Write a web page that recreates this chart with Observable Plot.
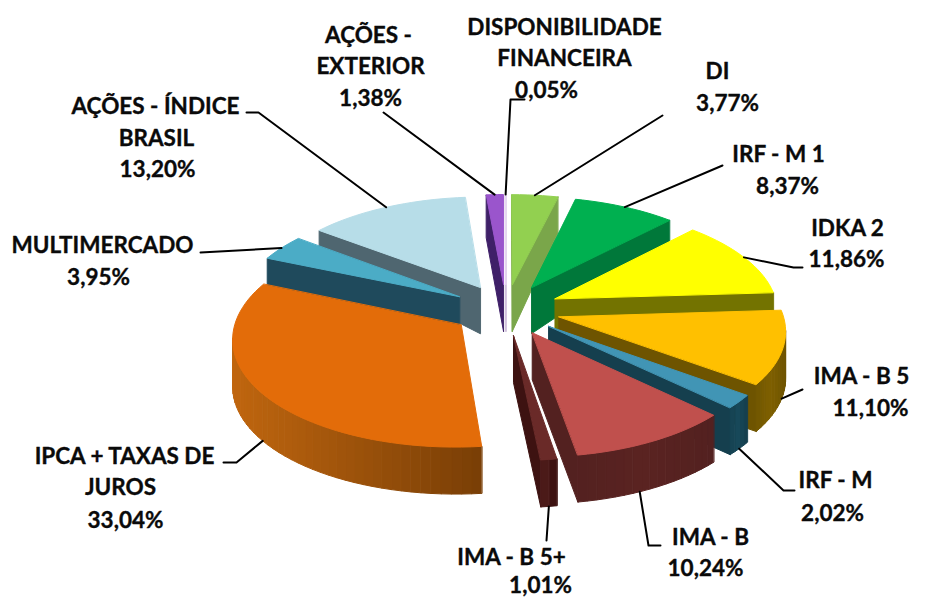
<!DOCTYPE html>
<html><head><meta charset="utf-8">
<style>html,body{margin:0;padding:0;background:#fff}svg{display:block}</style>
<script src="https://cdn.jsdelivr.net/npm/d3@7"></script>
<script src="https://cdn.jsdelivr.net/npm/@observablehq/plot@0.6"></script>
</head><body><div id="chart"></div>
<script>
const categories = ["DI","IRF - M 1","IDKA 2","IMA - B 5","IRF - M","IMA - B","IMA - B 5+","IPCA + TAXAS DE JUROS","MULTIMERCADO","AÇÕES - ÍNDICE BRASIL","AÇÕES - EXTERIOR","DISPONIBILIDADE FINANCEIRA"];
const values = [3.77,8.37,11.86,11.10,2.02,10.24,1.01,33.04,3.95,13.20,1.38,0.05];
const valueLabels = ["3,77%","8,37%","11,86%","11,10%","2,02%","10,24%","1,01%","33,04%","3,95%","13,20%","1,38%","0,05%"];
const topColors = ["#92d050","#00b050","#ffff00","#ffc000","#4195b5","#c0504d","#6a2a28","#e36c09","#4bacc6","#b7dde8","#9a55cc","#e8d8f2"];
const wallLight = ["#7aa64a","#00783a","#737300","#7f6000","#17495a","#5a2321","#4b1a18","#c0660f","#215868","#51666f","#4f2a80","#d0c0dc"];
const wallDark  = ["#7aa64a","#00783a","#737300","#6e5400","#153f4e","#532120","#3d1211","#7a3f06","#1f4a5c","#4f6670","#3f2068","#d0c0dc"];
// painter's order, back to front
const drawOrder = [11,10,0,1,9,8,2,3,4,5,6,7];

// label text, one row per line, and where it sits
const labelLines = [
  ["DI",717,71],["3,77%",727,103],
  ["IRF - M 1",778,154],["8,37%",787,186],
  ["IDKA 2",847,228],["11,86%",846,259],
  ["IMA - B 5",861,376],["11,10%",870,408],
  ["IRF - M",835,480],["2,02%",832,513],
  ["IMA - B",710,537],["10,24%",705,568],
  ["IMA - B 5+",511,557],["1,01%",540,585],
  ["IPCA + TAXAS DE",124,456],["JUROS",120,487],["33,04%",125,520],
  ["MULTIMERCADO",102,245],["3,95%",98,277],
  ["AÇÕES - ÍNDICE",155,106],["BRASIL",156,138],["13,20%",157,169],
  ["AÇÕES -",368,35],["EXTERIOR",370,66],["1,38%",370,98],
  ["DISPONIBILIDADE",564,27],["FINANCEIRA",564,58],["0,05%",546,90]
];
// leader elbows for each slice, from the rim outwards; the rim end comes from the slice
const leaderElbows = [
  [[662,115]],[[722,165]],[[793,267],[802,267]],[[802,389]],[[783,490],[794,490]],
  [[648,545],[660,545]],[[546,540]],[[236,462],[223,462]],[[200,252]],[[258,112],[246,112]],
  [[383,112]],[[510,99],[524,99]]
];
const leaderOnBase = [false,false,false,true,true,true,true,true,false,false,false,false];
const leaderAt = [.5,.5,.5,.55,.5,.6,.5,.5,.5,.5,.5,.5];

// projection of the exploded, tilted pie
const cx=505.5, cy=309, Rx=223, Ry=105, persp=.11, explode=.245;
const total = d3.sum(values);
const project = (U,V) => { const w=1/(1-persp*V); return [cx+Rx*U*w, cy+Ry*V*w]; };
const depth = (U,V) => V>=0 ? 47 : 47-34*Math.abs(U*V);
const point = (i,r,a) => {
  const mid = slices[i].mid;
  const U = explode*Math.sin(mid)+r*Math.sin(a), V = -explode*Math.cos(mid)-r*Math.cos(a);
  const [x,y] = project(U,V);
  return {x,y,b:y+depth(U,V)};
};
let acc=0;
const slices = values.map(v=>{const a0=acc/total*2*Math.PI; acc+=v; const a1=acc/total*2*Math.PI; return {a0,a1,mid:(a0+a1)/2};});

const polys=[]; let pid=0;
const addPoly=(pts,color)=>{const id=pid++; for(const [x,y] of pts) polys.push({id,x,y,color});};
const mix=(c1,c2,t)=>d3.interpolateRgb(c1,c2)(Math.max(0,Math.min(1,t)));
const wall=(p,q,color)=>{
  const q4=[[p.x,p.y],[q.x,q.y],[q.x,q.b],[p.x,p.b]];
  let area=0; q4.forEach((c,i)=>{const n=q4[(i+1)%4]; area+=c[0]*n[1]-n[0]*c[1];});
  if(area<0) addPoly(q4,color);
};
for(const i of drawOrder){
  const {a0,a1}=slices[i], tip=point(i,0,0);
  const n=Math.max(2,Math.ceil((a1-a0)/0.04));
  const rim=d3.range(n+1).map(k=>point(i,1,a0+(a1-a0)*k/n));
  wall(tip,rim[0],wallDark[i]);
  wall(rim[n],tip,wallDark[i]);
  const lo=d3.min(rim,d=>d.x), hi=d3.max(rim,d=>d.x);
  for(let k=0;k<n;k++){
    const t=(rim[k].x-lo)/(hi-lo||1);
    wall(rim[k],rim[k+1], i===7 ? mix(wallLight[i],wallDark[i],t) : mix(wallDark[i],wallLight[i],1-Math.abs(t-.5)*2));
  }
  addPoly([[tip.x,tip.y],...rim.map(r=>[r.x,r.y])],topColors[i]);
}

const leaders=[];
slices.forEach((s,i)=>{
  const p=point(i,1,s.a0+(s.a1-s.a0)*leaderAt[i]);
  const pts=[[p.x,leaderOnBase[i]?p.b:p.y],...leaderElbows[i]];
  pts.forEach(([x,y])=>leaders.push({i,x,y}));
});
const labels=labelLines.map(([text,x,y])=>({text,x,y}));

const chart=Plot.plot({
  width:933,height:600,margin:0,
  x:{domain:[0,933],axis:null},
  y:{domain:[600,0],axis:null},
  marks:[
    Plot.line(polys,{x:"x",y:"y",z:"id",fill:"color",stroke:"color",strokeWidth:1,strokeLinejoin:"round",curve:"linear-closed"}),
    Plot.line(leaders,{x:"x",y:"y",z:"i",stroke:"#000",strokeWidth:2}),
    Plot.text(labels,{x:"x",y:"y",text:"text",fontFamily:"Lato, Carlito, sans-serif",fontWeight:700,fontSize:22.5,fill:"#0a0a0a",stroke:"#0a0a0a",strokeWidth:.35,textAnchor:"middle"})
  ]
});
document.getElementById("chart").appendChild(chart);
</script></body></html>
